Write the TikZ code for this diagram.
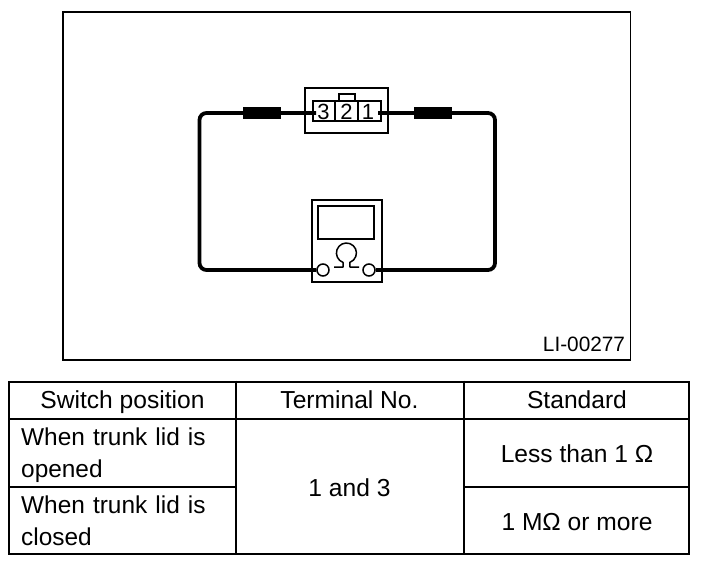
\documentclass[tikz,border=0pt]{standalone}
\usepackage{fontspec}
\setmainfont{Liberation Sans}
\tikzset{
  thin line/.style={draw=black,line width=1.5pt},
  hair/.style={draw=black,line width=1.2pt},
  wire/.style={draw=black,line width=3.8pt,rounded corners=7pt},
  tline/.style={draw=black,line width=2pt},
  sleeve/.style={fill=black,draw=none,minimum width=38pt,minimum height=12pt,inner sep=0pt},
  pin/.style={font=\fontsize{22}{22}\selectfont,inner sep=0pt,text=black},
  ttext/.style={font=\fontsize{24.6}{30}\selectfont,inner sep=0pt,text=black,anchor=base},
  rowtext/.style={font=\fontsize{24.4}{32}\selectfont,inner sep=0pt,text=black,align=left,anchor=base west,text width=210pt},
  term/.style={circle,draw=black,line width=1.5pt,fill=white,minimum size=12pt,inner sep=0pt},
}
\begin{document}
\begin{tikzpicture}[x=1pt,y=-1pt]
\useasboundingbox (0,0) rectangle (704,566);
\fill[white] (0,0) rectangle (704,566);
% frame
\draw[thin line] (63,12) rectangle (630.5,360);
\node[inner sep=0pt,anchor=base,font=\fontsize{20.8}{20}\selectfont] (code) at (584,351.5) {LI-00277};
% connector
\draw[thin line] (305,88) rectangle (388,133);
\draw[hair] (339,101) -- (339,94) -- (355,94) -- (355,101);
\draw[thin line] (313,101) rectangle (381,121);
\draw[thin line] (335,101) -- (335,121) (358,101) -- (358,121);
% wire anchors and parts
\coordinate (t3) at (316,113);
\coordinate (t1) at (378,113);
\coordinate (cTL) at (199.5,113);
\coordinate (cBL) at (199.5,270);
\coordinate (cTR) at (495,113);
\coordinate (cBR) at (495,270);
% meter
\draw[thin line] (312,200) rectangle (382,282);
\draw[thin line] (318,206) rectangle (374,239);
\node[term] (mL) at (323,270) {};
\node[term] (mR) at (369,270) {};
\draw[wire] (t3) -- (cTL) -- (cBL) -- (mL);
\draw[wire] (t1) -- (cTR) -- (cBR) -- (mR);
\node[sleeve] (sL) at (261.5,113) {};
\node[sleeve] (sR) at (433,113) {};
\node[pin] (p3) at (323.5,112) {3};
\node[pin] (p2) at (346.5,112) {2};
\node[pin] (p1) at (368,112) {1};
% Omega symbol
\draw[thin line,line join=round] (334,267) -- (343,267) -- (343,262.4) arc[start angle=110,end angle=430,radius=10] -- (350,267) -- (359,267);
% table
\draw[tline] (9,382) rectangle (689,554);
\draw[tline] (9,419) -- (689,419);
\draw[tline] (9,487) -- (236,487);
\draw[tline] (464,487) -- (689,487);
\draw[tline] (236,380.5) -- (236,554);
\draw[line width=2.4pt] (464,380.5) -- (464,554);
\node[ttext] (h1) at (122.5,408.5) {Switch position};
\node[ttext] (h2) at (349.5,408.5) {Terminal No.};
\node[ttext] (h3) at (577,408.5) {Standard};
\node[rowtext] (r1) at (21,445.5) {When trunk lid is\\opened};
\node[rowtext] (r2) at (21,513) {When trunk lid is\\closed};
\node[ttext] (c) at (349.5,496) {1 and 3};
\node[ttext] (s1) at (577,462.5) {Less than 1 Ω};
\node[ttext] (s2) at (577,530.5) {1 MΩ or more};
\end{tikzpicture}
\end{document}
